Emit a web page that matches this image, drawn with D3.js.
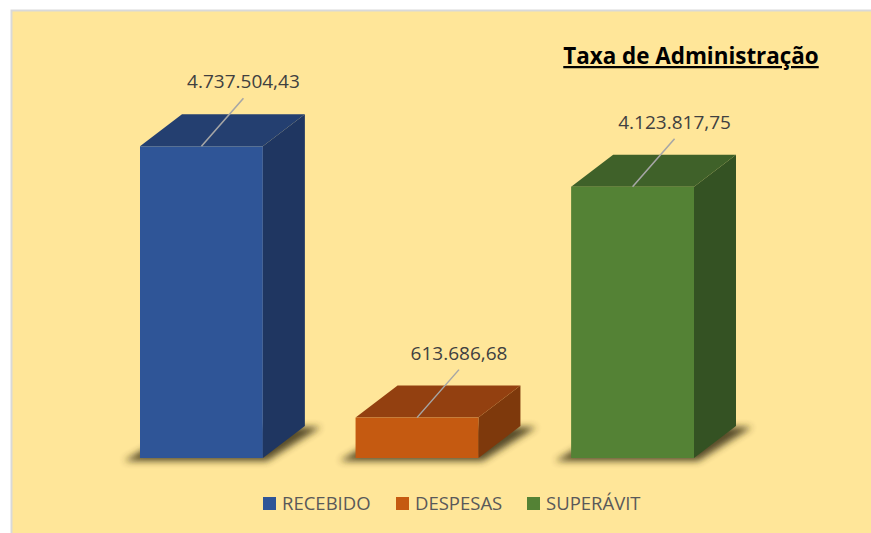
<!DOCTYPE html>
<html>
<head>
<meta charset="utf-8">
<script src="https://cdn.jsdelivr.net/npm/d3@7/dist/d3.min.js"></script>
<style>
  html, body { margin: 0; padding: 0; background: #fff; overflow: hidden; }
  svg { display: block; }
</style>
</head>
<body>
<svg width="871" height="533"></svg>
<script>
// data
var categories = ["RECEBIDO", "DESPESAS", "SUPERÁVIT"];
var values = [4737504.43, 613686.68, 4123817.75];
var frontColors = ["#2F5597", "#C55A11", "#548235"];
var topColors = ["#243F70", "#934010", "#3F6129"];
var sideColors = ["#1F3661", "#7E390C", "#345223"];
var title = "Taxa de Administração";

var svg = d3.select("svg");

var ptBR = d3.formatLocale({ decimal: ",", thousands: ".", grouping: [3], currency: ["R$", ""] });
var fmt = ptBR.format(",.2f");

// frame
svg.append("rect")
  .attr("x", 11.5).attr("y", 10.5)
  .attr("width", 880).attr("height", 540)
  .attr("fill", "#FFE699")
  .attr("stroke", "#D9D9D9")
  .attr("stroke-width", 2);

var x = d3.scaleBand()
  .domain(categories)
  .range([140, 694])
  .paddingInner(0.43)
  .paddingOuter(0);

var y = d3.scaleLinear()
  .domain([0, 5000000])
  .range([458, 129]);

var dx = 42, dy = -32;

var defs = svg.append("defs");
defs.append("filter").attr("id", "blur")
  .attr("x", "-20%").attr("y", "-50%").attr("width", "140%").attr("height", "200%")
  .append("feGaussianBlur").attr("stdDeviation", 3.5);

var bars = categories.map(function(c, i) {
  return { cat: c, val: values[i], i: i, x0: x(c), x1: x(c) + x.bandwidth(), top: y(values[i]), base: y(0) };
});

// shadows
svg.selectAll(".shadow")
  .data(bars)
  .enter()
  .append("polygon")
  .attr("class", "shadow")
  .attr("points", function(d) {
    return [
      [d.x0 - 16, d.base + 3],
      [d.x1 + 4, d.base + 3],
      [d.x1 + dx + 16, d.base + dy + 1],
      [d.x0 + dx, d.base + dy + 1]
    ].join(" ");
  })
  .attr("fill", "#3A3118")
  .attr("opacity", 0.85)
  .attr("filter", "url(#blur)");

var g = svg.selectAll(".bar")
  .data(bars)
  .enter()
  .append("g")
  .attr("class", "bar");

// side face
g.append("polygon")
  .attr("points", function(d) {
    return [[d.x1, d.top], [d.x1 + dx, d.top + dy], [d.x1 + dx, d.base + dy], [d.x1, d.base]].join(" ");
  })
  .attr("fill", function(d) { return sideColors[d.i]; });

// top face
g.append("polygon")
  .attr("points", function(d) {
    return [[d.x0, d.top], [d.x0 + dx, d.top + dy], [d.x1 + dx, d.top + dy], [d.x1, d.top]].join(" ");
  })
  .attr("fill", function(d) { return topColors[d.i]; });

// front face
g.append("rect")
  .attr("x", function(d) { return d.x0; })
  .attr("y", function(d) { return d.top; })
  .attr("width", x.bandwidth())
  .attr("height", function(d) { return d.base - d.top; })
  .attr("fill", function(d) { return frontColors[d.i]; });

// leader lines
g.append("line")
  .attr("x1", function(d) { return (d.x0 + d.x1) / 2; })
  .attr("y1", function(d) { return d.top; })
  .attr("x2", function(d) { return (d.x0 + d.x1) / 2 + dx; })
  .attr("y2", function(d) { return d.top + dy - 16; })
  .attr("stroke", "#A6A6A6")
  .attr("stroke-width", 1.5);

// value labels
g.append("text")
  .attr("x", function(d) { return (d.x0 + d.x1) / 2 + dx; })
  .attr("y", function(d) { return d.top + dy - 26; })
  .attr("text-anchor", "middle")
  .attr("font-family", "Open Sans, sans-serif")
  .attr("font-size", 19)
  .attr("fill", "#404040")
  .text(function(d) { return fmt(d.val); });

// title
svg.append("text")
  .attr("x", 691)
  .attr("y", 64)
  .attr("text-anchor", "middle")
  .attr("font-family", "Open Sans, sans-serif")
  .attr("font-weight", "bold")
  .attr("font-size", 22.4)
  .attr("text-decoration", "underline")
  .attr("fill", "#000")
  .text(title);

// legend
var legendX = [263, 396, 527];
var leg = svg.selectAll(".legend")
  .data(categories)
  .enter()
  .append("g")
  .attr("class", "legend")
  .attr("transform", function(d, i) { return "translate(" + legendX[i] + ",497)"; });

leg.append("rect")
  .attr("width", 13).attr("height", 13)
  .attr("fill", function(d, i) { return frontColors[i]; });

leg.append("text")
  .attr("x", 19)
  .attr("y", 13)
  .attr("font-family", "Open Sans, sans-serif")
  .attr("font-size", 18.5)
  .attr("fill", "#595959")
  .text(function(d) { return d; });
</script>
</body>
</html>
